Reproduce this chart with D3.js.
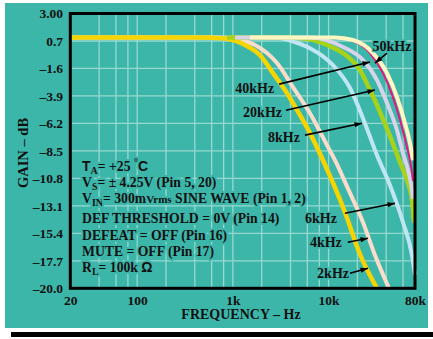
<!DOCTYPE html>
<html>
<head>
<meta charset="utf-8">
<script src="https://cdn.jsdelivr.net/npm/d3@7"></script>
<style>
  body { margin: 0; background: #fff; }
  svg { display: block; }
  text { font-family: "Liberation Serif", "Times New Roman", serif; font-weight: bold; fill: #111; }
</style>
</head>
<body>
<svg id="chart" width="433" height="339"></svg>
<script>
// gain vs frequency, one array per curve: [frequency Hz, gain dB]
var freqTicks = [20, 100, 1000, 10000, 80000];
var freqTickLabels = ["20", "100", "1k", "10k", "80k"];
var gainTicks = [3.0, 0.7, -1.6, -3.9, -6.2, -8.5, -10.8, -13.1, -15.4, -17.7, -20.0];
var gridFreqs = [40, 60, 80, 100, 200, 400, 600, 800, 1000, 2000, 4000, 6000, 8000, 10000, 20000, 40000, 60000];

var curve2k = [[20,1.0],[453,1.0],[828,0.9],[1337,0.36],[1918,-0.48],[2624,-1.99],[3504,-3.41],[4688,-5.09],
  [6394,-7.01],[8740,-9.28],[14826,-13.63],[21280,-17.15],[32060,-20.0]];
var curve4k = [[20,1.0],[650,1.0],[1104,0.85],[1702,0.36],[2272,-0.31],[2890,-1.15],[4246,-3.16],[6394,-5.34],
  [9624,-8.02],[11666,-9.28],[15874,-11.62],[22880,-14.47],[30560,-17.24],[42780,-20.0]];
var curve6k = [[20,1.0],[1918,1.0],[3044,0.95],[4457,0.6],[6394,0.1],[11118,-1.32],[16740,-3.24],[22880,-5.76],
  [32060,-8.86],[43820,-11.37],[59920,-14.47],[74420,-17.24],[80000,-18.9]];
var curve20k = [[868,1.0],[3952,1.0],[6394,0.85],[9624,0.36],[15570,-0.56],[21280,-1.73],[27080,-3.41],
  [34460,-5.25],[43820,-7.26],[55720,-9.44],[67600,-11.2],[74420,-12.6],[78080,-14.5]];
var curve40k = [[1052,1.0],[6394,1.0],[14144,0.2],[22880,-0.9],[32060,-2.57],[40780,-4.5],[51880,-6.77],
  [59920,-8.69],[67600,-10.1],[74420,-11.8],[76220,-12.5]];
var curve50kEdge = [[1510,1.0],[11118,1.0],[16740,0.78],[27080,-0.31],[37020,-1.99],[47100,-4.0],[57080,-6.18],
  [64380,-7.85],[70900,-9.28],[74420,-10.3],[76220,-11.0]];
var curve50k = [[1510,1.0],[11666,1.0],[17990,0.78],[29100,-0.31],[40780,-1.99],[51880,-4.0],[62880,-6.18],
  [70900,-7.85],[76220,-9.28]];

var curves = [
  { data: curve6k, color: "#bfe6f2", width: 4 },
  { data: curve4k, color: "#fbdccb", width: 4 },
  { data: curve2k, color: "#f6d400", width: 4.5 },
  { data: curve20k, color: "#a6d21a", width: 4.5 },
  { data: curve40k, color: "#d6d3ea", width: 4 },
  { data: curve50kEdge, color: "#e2177f", width: 2 },
  { data: curve50k, color: "#fff6c2", width: 4 }
];

// arrow callouts: tail and tip in [Hz, dB]
var callouts = [
  { label: "50kHz", tail: [40780,-0.31], tip: [30560,-1.15], anchor: "middle", dx: 5, dy: -2 },
  { label: "40kHz", tail: [3044,-2.91], tip: [27080,-1.06], anchor: "end", dx: -5, dy: 9 },
  { label: "20kHz", tail: [3590,-5.09], tip: [30560,-3.41], anchor: "end", dx: -4, dy: 7 },
  { label: "8kHz", tail: [5662,-7.18], tip: [22340,-6.18], anchor: "end", dx: -5, dy: 7 },
  { label: "6kHz", tail: [14826,-13.72], tip: [49440,-12.88], anchor: "end", dx: -8, dy: 10 },
  { label: "4kHz", tail: [15874,-16.15], tip: [25820,-15.81], anchor: "end", dx: -6, dy: 5 },
  { label: "2kHz", tail: [16740,-18.74], tip: [25820,-18.32], anchor: "end", dx: -1, dy: 5 }
];

var conditions = [
  [{t:"T",sans:1},{t:"A",sub:1},{t:"= +25 "},{t:"°",sup:1},{t:"C",sans:1}],
  [{t:"V"},{t:"S",sub:1},{t:"= ± 4.25V (Pin 5, 20)"}],
  [{t:"V"},{t:"IN",sub:1},{t:"= 300m"},{t:"Vrms",small:1},{t:" SINE WAVE (Pin 1, 2)"}],
  [{t:"DEF THRESHOLD = 0V (Pin 14)"}],
  [{t:"DEFEAT = OFF (Pin 16)"}],
  [{t:"MUTE = OFF (Pin 17)"}],
  [{t:"R"},{t:"L",sub:1},{t:"= 100k "},{t:"Ω",sans:1}]
];
var conditionBaselines = [171, 186.5, 203, 223, 239.5, 255.5, 272];

var teal = "#3db6aa";
var svg = d3.select("#chart");

// panel + shadow bar
svg.append("rect").attr("x", 11).attr("y", 332).attr("width", 422).attr("height", 5).attr("fill", "#000");
svg.append("rect").attr("x", 5).attr("y", 3).attr("width", 423).attr("height", 325).attr("fill", teal);

var x = d3.scaleLog().domain([20, 80000]).range([70.3, 415]);
var y = d3.scaleLinear().domain([-20, 3]).range([288.3, 13.5]);

// grid
var grid = svg.append("g").attr("stroke", "#97d8cf").attr("stroke-width", 1.3);
grid.selectAll(".vg").data(gridFreqs).enter().append("line")
    .attr("x1", d => x(d)).attr("x2", d => x(d))
    .attr("y1", y(3)).attr("y2", y(-20));
grid.selectAll(".hg").data(gainTicks.slice(1, -1)).enter().append("line")
    .attr("x1", x(20)).attr("x2", x(80000))
    .attr("y1", d => y(d)).attr("y2", d => y(d));

// curves
var line = d3.line().x(d => x(d[0])).y(d => y(d[1])).curve(d3.curveMonotoneX);
svg.selectAll(".curve").data(curves).enter().append("path")
    .attr("d", d => line(d.data))
    .attr("fill", "none")
    .attr("stroke", d => d.color)
    .attr("stroke-width", d => d.width)
    .attr("stroke-linecap", "butt");

// frame
svg.append("rect")
    .attr("x", x(20)).attr("y", y(3))
    .attr("width", x(80000) - x(20)).attr("height", y(-20) - y(3))
    .attr("fill", "none").attr("stroke", "#000").attr("stroke-width", 3);

// axes
var fmtGain = d => (d === 3 ? "3.00" : d3.format(".1f")(Math.abs(d))).replace(/^/, d < 0 ? "–" : "");
var yAxis = svg.append("g").attr("transform", "translate(63,0)")
    .call(d3.axisLeft(y).tickValues(gainTicks).tickSize(0).tickPadding(0).tickFormat(fmtGain));
var xAxis = svg.append("g").attr("transform", "translate(0,295.5)")
    .call(d3.axisBottom(x).tickValues(freqTicks).tickSize(0).tickPadding(0).tickFormat((d, i) => freqTickLabels[i]));
[yAxis, xAxis].forEach(a => {
  a.select(".domain").remove();
  a.selectAll("text").attr("font-family", "Liberation Serif, serif").attr("font-weight", "bold")
    .attr("font-size", 13.5).attr("fill", "#111");
});

svg.append("text").attr("x", 241).attr("y", 319).attr("text-anchor", "middle")
    .attr("font-size", 14).text("FREQUENCY – Hz");
svg.append("text").attr("transform", "translate(28,153) rotate(-90)").attr("text-anchor", "middle")
    .attr("font-size", 14.5).text("GAIN – dB");

// conditions block
var notes = svg.append("g")
    .attr("stroke", teal).attr("stroke-width", 4).attr("stroke-linejoin", "round")
    .style("paint-order", "stroke");
conditions.forEach((segs, i) => {
  var t = notes.append("text").attr("x", 82).attr("y", conditionBaselines[i]).attr("font-size", 13.7);
  var shift = 0;
  segs.forEach(s => {
    var want = s.sub ? 3 : s.sup ? -5 : 0;
    var sp = t.append("tspan").attr("dy", want - shift).text(s.t);
    shift = want;
    if (s.sub) sp.attr("font-size", 10);
    if (s.sup) sp.attr("font-size", 10);
    if (s.small) sp.attr("font-size", 11);
    if (s.sans) sp.attr("font-family", "Liberation Sans, Arial, sans-serif").attr("font-size", 14);
  });
});

// arrows
svg.append("defs").append("marker")
    .attr("id", "head").attr("viewBox", "0 -4 10 8").attr("refX", 10).attr("refY", 0)
    .attr("markerWidth", 9).attr("markerHeight", 6).attr("markerUnits", "userSpaceOnUse")
    .attr("orient", "auto")
  .append("path").attr("d", "M0,-3.5L10,0L0,3.5Z").attr("fill", "#000");

var call = svg.selectAll(".call").data(callouts).enter().append("g");
call.append("line")
    .attr("x1", d => x(d.tail[0])).attr("y1", d => y(d.tail[1]))
    .attr("x2", d => x(d.tip[0])).attr("y2", d => y(d.tip[1]))
    .attr("stroke", "#000").attr("stroke-width", 1.6).attr("marker-end", "url(#head)");
call.append("text")
    .attr("x", d => x(d.tail[0]) + d.dx).attr("y", d => y(d.tail[1]) + d.dy)
    .attr("text-anchor", d => d.anchor).attr("font-size", 14)
    .attr("stroke", teal).attr("stroke-width", 3).style("paint-order", "stroke")
    .text(d => d.label);
</script>
</body>
</html>
